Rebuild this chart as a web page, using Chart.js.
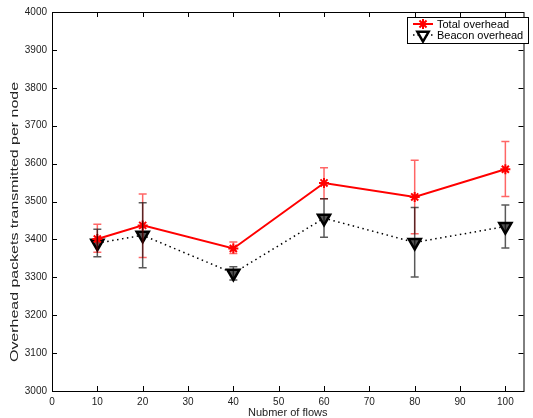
<!DOCTYPE html>
<html>
<head>
<meta charset="utf-8">
<script src="https://cdn.jsdelivr.net/npm/chart.js@4/dist/chart.umd.min.js"></script>
<style>
   html, body { margin: 0; padding: 0; background: #fff; }
   canvas { display: block; }
</style>
</head>
<body>
<canvas id="chart" width="533" height="418"></canvas>
<script>
// data
const flows = [10, 20, 40, 60, 80, 100];
const totalOverhead = [3401, 3437, 3376, 3549, 3512, 3585];
const totalLow = [3366, 3352, 3363, 3507, 3415, 3513];
const totalHigh = [3440, 3520, 3393, 3589, 3609, 3658];
const beaconOverhead = [3390, 3411, 3311, 3456, 3392, 3434];
const beaconLow = [3354, 3325, 3293, 3406, 3301, 3377];
const beaconHigh = [3427, 3497, 3328, 3507, 3484, 3491];

const xTicks = [0, 10, 20, 30, 40, 50, 60, 70, 80, 90, 100];
const yTitle = "Overhead packets transmitted per node";
const xTitle = "Nubmer of flows";

Chart.defaults.font.family = "'Liberation Sans', Arial, sans-serif";
Chart.defaults.color = "#000";

const totalStyle = {
   pointStyle: "star",
   pointRadius: 5,
   borderWidth: 2,
   borderColor: "#ff0000",
   backgroundColor: "#ff0000",
   rotation: 0,
};
const beaconStyle = {
   pointStyle: "triangle",
   pointRadius: 7,
   borderWidth: 2.5,
   borderColor: "#000",
   backgroundColor: "#555",
   rotation: 180,
};

// error bars drawn with the chart's own scales
const errorBars = {
   id: "errorBars",
   afterDatasetsDraw(chart) {
      const { ctx, scales } = chart;
      const sets = [
         { low: totalLow, high: totalHigh, color: "rgba(255,0,0,0.6)" },
         { low: beaconLow, high: beaconHigh, color: "rgba(0,0,0,0.65)" },
      ];
      ctx.save();
      ctx.lineWidth = 1.5;
      sets.forEach((s) => {
         ctx.strokeStyle = s.color;
         flows.forEach((f, i) => {
            const x = scales.x.getPixelForValue(f);
            const yl = scales.y.getPixelForValue(s.low[i]);
            const yh = scales.y.getPixelForValue(s.high[i]);
            ctx.beginPath();
            ctx.moveTo(x, yl);
            ctx.lineTo(x, yh);
            ctx.moveTo(x - 4, yl);
            ctx.lineTo(x + 4, yl);
            ctx.moveTo(x - 4, yh);
            ctx.lineTo(x + 4, yh);
            ctx.stroke();
         });
      });
      ctx.restore();
   },
};

// axis box, inward ticks, y title, legend
const frame = {
   id: "frame",
   afterDraw(chart) {
      const { ctx, chartArea: a, scales } = chart;
      ctx.save();
      ctx.strokeStyle = "#000";
      ctx.lineWidth = 1;
      ctx.strokeRect(a.left + 0.5, a.top + 0.5, a.right - a.left, a.bottom - a.top);

      ctx.beginPath();
      scales.x.ticks.forEach((t) => {
         const x = Math.round(scales.x.getPixelForValue(t.value)) + 0.5;
         ctx.moveTo(x, a.bottom);
         ctx.lineTo(x, a.bottom - 5);
         ctx.moveTo(x, a.top);
         ctx.lineTo(x, a.top + 5);
      });
      scales.y.ticks.forEach((t) => {
         const y = Math.round(scales.y.getPixelForValue(t.value)) + 0.5;
         ctx.moveTo(a.left, y);
         ctx.lineTo(a.left + 5, y);
         ctx.moveTo(a.right, y);
         ctx.lineTo(a.right - 5, y);
      });
      ctx.stroke();

      // y title, stretched along its length like the original
      ctx.font = "10.5px 'Liberation Sans', Arial, sans-serif";
      const w = ctx.measureText(yTitle).width;
      ctx.translate(15, 222);
      ctx.rotate(-Math.PI / 2);
      ctx.scale(280 / w, 1);
      ctx.fillStyle = "#222";
      ctx.textAlign = "center";
      ctx.textBaseline = "middle";
      ctx.fillText(yTitle, 0, 0);
      ctx.restore();

      // legend
      ctx.save();
      ctx.fillStyle = "#fff";
      ctx.fillRect(407, 17, 121, 26);
      ctx.strokeStyle = "#000";
      ctx.lineWidth = 1;
      ctx.strokeRect(407.5, 17.5, 121, 26);
      ctx.font = "11px 'Liberation Sans', Arial, sans-serif";
      ctx.textBaseline = "middle";
      const rows = [
         { y: 24, style: totalStyle, dash: [], lw: 2, label: chart.data.datasets[0].label },
         { y: 35, style: { ...beaconStyle, backgroundColor: "#fff", pointRadius: 6.5 }, dash: [1.5, 3], lw: 1.5, label: chart.data.datasets[1].label },
      ];
      rows.forEach((r) => {
         ctx.strokeStyle = r.style.borderColor;
         ctx.lineWidth = r.lw;
         ctx.setLineDash(r.dash);
         ctx.beginPath();
         ctx.moveTo(413, r.y);
         ctx.lineTo(433, r.y);
         ctx.stroke();
         ctx.setLineDash([]);
         ctx.fillStyle = r.style.backgroundColor;
         ctx.strokeStyle = r.style.borderColor;
         ctx.lineWidth = r.style.borderWidth;
         Chart.helpers.drawPoint(ctx, {
            pointStyle: r.style.pointStyle,
            radius: r.style.pointRadius,
            rotation: r.style.rotation,
            borderWidth: r.style.borderWidth,
         }, 423, r.y);
         ctx.fillStyle = "#000";
         ctx.fillText(r.label, 437, r.y + 0.5);
      });
      ctx.restore();
   },
};

const ctx = document.getElementById("chart");
const myChart = new Chart(ctx, {
   type: "line",
   data: {
      datasets: [
         {
            label: "Total overhead",
            data: flows.map((f, i) => ({ x: f, y: totalOverhead[i] })),
            borderColor: totalStyle.borderColor,
            borderWidth: 2,
            pointStyle: totalStyle.pointStyle,
            pointRadius: totalStyle.pointRadius,
            pointBorderWidth: totalStyle.borderWidth,
            pointBorderColor: totalStyle.borderColor,
            pointBackgroundColor: totalStyle.backgroundColor,
            tension: 0,
            fill: false,
         },
         {
            label: "Beacon overhead",
            data: flows.map((f, i) => ({ x: f, y: beaconOverhead[i] })),
            borderColor: "#000",
            borderWidth: 1.5,
            borderDash: [1.5, 3.5],
            pointStyle: beaconStyle.pointStyle,
            pointRotation: beaconStyle.rotation,
            pointRadius: beaconStyle.pointRadius,
            pointBorderWidth: beaconStyle.borderWidth,
            pointBorderColor: beaconStyle.borderColor,
            pointBackgroundColor: beaconStyle.backgroundColor,
            tension: 0,
            fill: false,
         },
      ],
   },
   options: {
      responsive: false,
      animation: false,
      devicePixelRatio: 1,
      layout: { padding: { top: 12, right: 3, left: 0, bottom: 0 } },
      plugins: { legend: { display: false }, tooltip: { enabled: false } },
      scales: {
         x: {
            type: "linear",
            min: 0,
            max: 104,
            grid: { display: false, drawTicks: false },
            border: { display: false },
            ticks: { stepSize: 10, padding: 5, font: { size: 10 }, maxRotation: 0, color: "#222" },
            afterBuildTicks: (scale) => {
               scale.ticks = xTicks.map((v) => ({ value: v }));
            },
            title: { display: true, text: xTitle, font: { size: 11, lineHeight: 1 }, padding: 0, color: "#222" },
            afterFit: (scale) => {
               scale.height = 27;
            },
         },
         y: {
            min: 3000,
            max: 4000,
            grid: { display: false, drawTicks: false },
            border: { display: false },
            ticks: { stepSize: 100, padding: 5, font: { size: 10 }, color: "#222", callback: (v) => String(v) },
            afterFit: (scale) => {
               scale.width = 52;
            },
         },
      },
   },
   plugins: [errorBars, frame],
});
</script>
</body>
</html>
